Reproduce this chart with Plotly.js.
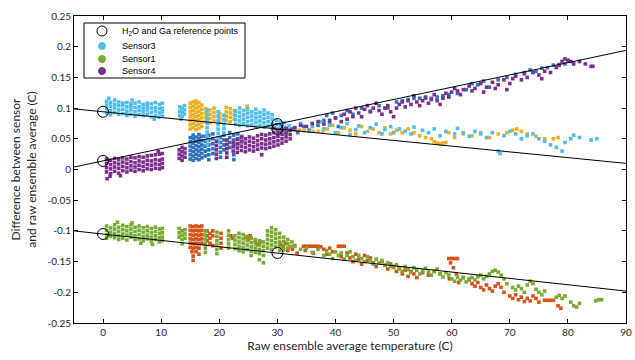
<!DOCTYPE html>
<html>
<head>
<meta charset="utf-8">
<script src="https://cdn.plot.ly/plotly-3.0.1.min.js"></script>
<style>html,body{margin:0;padding:0;background:#fff;}#chart{width:635px;height:360px;}</style>
</head>
<body>
<div id="chart"></div>
<script>
// Tick labels
const xTickVals = [0, 10, 20, 30, 40, 50, 60, 70, 80, 90];
const yTickVals = [-0.25, -0.2, -0.15, -0.1, -0.05, 0, 0.05, 0.1, 0.15, 0.2, 0.25];
const yTickText = ["-0.25", "-0.2", "-0.15", "-0.1", "-0.05", "0", "0.05", "0.1", "0.15", "0.2", "0.25"];

// Legend entries
const legendNames = ["H<sub>2</sub>O and Ga reference points", "Sensor3", "Sensor1", "Sensor4"];
const legendColors = [null, "#4DBEEE", "#77AC30", "#7E2F8E"];

// Reference points (H2O and Ga)
const refX = [0, 30, 0, 30, 0, 30];
const refY = [0.094, 0.066, 0.014, 0.074, -0.105, -0.136];

// Fit lines through reference points
const lineX = [-5, 90];
const lineUpperDownY = [0.0987, 0.010];
const lineUpperUpY = [0.004, 0.194];
const lineLowerY = [-0.100, -0.198];

// Columns: [x, [y values read at that x]]
const sensor3Cols = [
  [0.6,[0.092,0.099,0.105,0.111]],[1.0,[0.116]],[1.3,[0.089,0.096,0.103,0.109]],
  [2.0,[0.093,0.100,0.106,0.113]],[2.7,[0.090,0.097,0.104,0.110]],[3.4,[0.091,0.098,0.105,0.108]],
  [4.1,[0.088,0.095,0.102,0.109]],[4.8,[0.090,0.097,0.103,0.107]],[5.0,[0.113]],
  [5.5,[0.087,0.094,0.101,0.108]],[6.2,[0.089,0.096,0.102,0.110]],[6.9,[0.088,0.094,0.100,0.106]],
  [7.6,[0.090,0.097,0.103,0.108]],[8.3,[0.086,0.093,0.100,0.107]],[8.8,[0.082]],
  [9.0,[0.088,0.095,0.101,0.109]],[9.7,[0.085,0.092,0.099,0.106]],[10.2,[0.087,0.094,0.100,0.108]],
  [13.2,[0.088,0.095,0.102]],[13.4,[0.082]],[13.6,[0.086,0.093,0.100]],[14.0,[0.090,0.097,0.104]],
  [17.9,[0.040,0.047,0.054,0.061,0.068,0.075,0.082,0.089,0.096]],
  [19.8,[0.045,0.052,0.059,0.066,0.073,0.080,0.087,0.094]],
  [20.8,[0.060,0.067,0.074,0.081,0.088]],
  [22.8,[0.074,0.081,0.088,0.095]],[23.5,[0.072,0.079,0.086,0.093,0.100]],
  [24.2,[0.075,0.082,0.089,0.096]],[24.9,[0.071,0.078,0.085,0.092,0.099]],
  [25.6,[0.073,0.080,0.087,0.094]],[26.3,[0.070,0.077,0.084,0.091,0.098]],
  [27.0,[0.072,0.079,0.086,0.093]],[27.7,[0.069,0.076,0.083,0.090,0.097]],
  [28.4,[0.071,0.078,0.085,0.092]],[29.1,[0.068,0.075,0.082,0.089]],
  [29.8,[0.066,0.073,0.080]],[30.5,[0.064,0.071,0.078]],[31.2,[0.062,0.069,0.076]],[32.0,[0.064,0.071]],
  [33,[0.068]],[34,[0.075]],[35.5,[0.062]],[36,[0.070]],[37.5,[0.078]],[38,[0.066]],[39,[0.072]],
  [40,[0.060]],[41,[0.068]],[42,[0.075]],[42.5,[0.057]],[43.5,[0.065]],[44,[0.071]],[45,[0.060]],
  [46,[0.068]],[47,[0.074]],[48,[0.058]],[48.5,[0.065]],[49.5,[0.070]],[50,[0.060]],[51,[0.066]],
  [52,[0.062]],[53,[0.058]],[53.5,[0.069]],[55,[0.064]],[56,[0.060]],[57,[0.066]],[58,[0.055]],
  [59,[0.062]],[60.5,[0.058]],[61,[0.067]],[62,[0.060]],[63,[0.054]],[64,[0.062]],[65,[0.058]],
  [66,[0.052]],[67,[0.060]],[68,[0.030]],[68.3,[0.026]],[69,[0.055]],[70,[0.062]],[71,[0.058]],
  [72,[0.050]],[73,[0.055]],[74,[0.058]],[75,[0.050]],[76,[0.046]],[77,[0.040]],[78,[0.036]],
  [79,[0.030]],[79.5,[0.044]],[80.5,[0.050]],[81,[0.056]],[82,[0.052]],[84,[0.048]],[85,[0.050]]
];

const orangeCols = [
  [15.0,[0.066,0.073,0.080,0.087,0.094,0.101,0.108]],
  [15.5,[0.068,0.075,0.082,0.089,0.096,0.103,0.110]],
  [16.0,[0.065,0.072,0.079,0.086,0.093,0.100,0.107,0.112]],
  [16.5,[0.067,0.074,0.081,0.088,0.095,0.102,0.109]],
  [17.0,[0.070,0.077,0.084,0.091,0.098,0.105]],
  [17.7,[0.078,0.085,0.092,0.099]],[18.4,[0.076,0.083,0.090,0.097]],[19.1,[0.079,0.086,0.093,0.100]],
  [20.1,[0.077,0.084,0.091]],[21.2,[0.080,0.087,0.094,0.101]],[21.9,[0.078,0.085,0.092,0.099]],
  [22.6,[0.082,0.089,0.096]],[24.8,[0.098,0.103]],
  [30.2,[0.066]],[31,[0.067]],[32,[0.063]],[33,[0.064]],[33.8,[0.064]],[34.6,[0.063]],[35.4,[0.063]],
  [36.2,[0.062]],[37,[0.062]],[37.8,[0.061]],[38.6,[0.066]],[39.5,[0.072]],[40.5,[0.060]],
  [41.5,[0.068]],[42.5,[0.064]],[43.5,[0.058]],[44.5,[0.070]],[45.5,[0.062]],[46.5,[0.066]],
  [47.5,[0.060]],[48.5,[0.068]],[49.5,[0.058]],[50.5,[0.064]],[51.5,[0.060]],[52.5,[0.066]],
  [53.5,[0.060]],[54.5,[0.055]],[55.5,[0.052]],[56.5,[0.050]],[57,[0.045]],[57.5,[0.043]],
  [58,[0.042]],[58.5,[0.043]],[59,[0.044]],[59.5,[0.060]],[60.5,[0.052]],[62,[0.058]],
  [63.5,[0.055]],[65,[0.060]],[66.5,[0.052]],[68,[0.058]],[69.5,[0.060]],[70.5,[0.064]],
  [71.2,[0.066]],[72,[0.062]],[73,[0.058]],[74.5,[0.054]],[76,[0.050]],[77.5,[0.050]],[78.3,[0.052]]
];

const darkBlueCols = [
  [15.0,[0.017,0.024,0.031,0.038,0.045,0.052]],
  [15.5,[0.015,0.022,0.029,0.036,0.043,0.050,0.056]],
  [16.0,[0.018,0.025,0.032,0.039,0.046,0.053]],
  [16.5,[0.016,0.023,0.030,0.037,0.044,0.051,0.057]],
  [17.0,[0.019,0.026,0.033,0.040,0.047,0.054]],
  [17.6,[0.022,0.030,0.038,0.046,0.054]],[18.2,[0.016,0.024,0.032,0.040,0.048,0.056]],
  [18.9,[0.026,0.034,0.042,0.050,0.058]],[20.2,[0.020,0.028,0.036,0.044,0.052]],
  [20.8,[0.032,0.040,0.048,0.056]],[21.8,[0.036,0.044,0.052,0.060]],
  [22.5,[0.016,0.024,0.040,0.048,0.056]],[23.2,[0.042,0.050,0.058]],[23.9,[0.046,0.054]],
  [30.5,[0.062]],[31.5,[0.058]],[32.5,[0.066]],[33.5,[0.060]],[34.5,[0.070]],[35.5,[0.064]],
  [37,[0.072]],[38,[0.080]],[38.5,[0.088]],[39,[0.076]],[39.5,[0.092]],[40,[0.084]],[40.5,[0.070]],
  [41,[0.088]],[42,[0.096]],[43,[0.090]],[44.5,[0.100]],[46,[0.095]],[47.5,[0.104]],[49,[0.100]],
  [50.5,[0.110]],[51.5,[0.112]],[52.5,[0.114]],[53.5,[0.116]],[54.5,[0.116]],[55.5,[0.116]],
  [56.5,[0.116]],[57.5,[0.118]],[58.5,[0.120]],[59.5,[0.122]],[61,[0.124]],[62.5,[0.130]],
  [63.5,[0.140]],[64.5,[0.138]],[65.5,[0.144]],[66.5,[0.134]],[68,[0.146]],[69.5,[0.150]],
  [71,[0.155]],[72.5,[0.158]],[73.5,[0.162]],[74.5,[0.160]],[75.5,[0.165]],[76.5,[0.166]],
  [77.5,[0.170]],[78.5,[0.171]],[79.5,[0.172]]
];

const sensor4Cols = [
  [0.6,[-0.004,0.003,0.010,0.017]],[0.7,[-0.015]],[1.2,[-0.011]],[1.3,[-0.007,0.001,0.008,0.015]],
  [2.0,[-0.003,0.004,0.011,0.018]],[2.7,[-0.006,0.002,0.009,0.016]],[3.0,[-0.010]],
  [3.4,[-0.002,0.005,0.012,0.019]],[4.1,[-0.004,0.003,0.010,0.017]],[4.8,[-0.001,0.006,0.013,0.020]],
  [5.5,[-0.003,0.004,0.011,0.019]],[6.2,[0.000,0.007,0.014,0.021]],[6.9,[-0.002,0.005,0.012,0.020]],
  [7.6,[0.001,0.008,0.015,0.022]],[8.3,[0.000,0.007,0.014,0.023]],[9.0,[0.002,0.009,0.016,0.024]],
  [9.5,[0.029]],[9.7,[0.001,0.008,0.015,0.025]],[10.2,[0.003,0.010,0.017,0.026]],
  [13.1,[0.018,0.025,0.032]],[13.6,[0.015,0.022,0.029,0.036]],[14.1,[0.020,0.027,0.034]],
  [19.5,[0.018,0.025,0.032,0.039,0.046]],[21.3,[0.020,0.027,0.034,0.041,0.048]],
  [22.4,[0.030,0.037,0.044]],[23.1,[0.028,0.035,0.042,0.049]],[23.8,[0.031,0.038,0.045,0.052]],
  [24.5,[0.029,0.036,0.043,0.050]],[25.2,[0.032,0.039,0.046,0.053]],[25.9,[0.030,0.037,0.044,0.051]],
  [26.6,[0.033,0.040,0.047,0.055]],[27.3,[0.024,0.035,0.042,0.050,0.057]],
  [28.0,[0.034,0.041,0.048,0.056]],[28.7,[0.036,0.043,0.050,0.058]],
  [29.4,[0.038,0.045,0.052,0.060,0.067]],[30.1,[0.040,0.047,0.054,0.061]],
  [30.8,[0.043,0.050,0.057,0.064]],[31.5,[0.046,0.053,0.060,0.067]],[32.2,[0.050,0.057,0.064]],
  [33,[0.068]],[34,[0.072]],[35,[0.070]],[36,[0.075]],[37,[0.078]],[38,[0.074]],[39,[0.080]],
  [40,[0.084]],[41,[0.078]],[41.5,[0.090]],[42,[0.082]],[42.5,[0.094]],[43,[0.086]],[43.5,[0.100]],
  [44,[0.092]],[44.5,[0.086]],[45,[0.098]],[45.5,[0.104]],[46,[0.094]],[46.5,[0.100]],[47,[0.108]],
  [47.5,[0.096]],[48,[0.090]],[48.5,[0.100]],[49,[0.104]],[49.5,[0.094]],[50,[0.086]],[50.5,[0.100]],
  [51,[0.106]],[51.5,[0.110]],[52,[0.102]],[52.5,[0.112]],[53,[0.106]],[53.5,[0.120]],[54,[0.110]],
  [54.5,[0.104]],[55,[0.112]],[55.5,[0.118]],[56,[0.108]],[56.5,[0.114]],[57,[0.122]],[57.5,[0.112]],
  [58,[0.106]],[58.5,[0.116]],[59,[0.124]],[59.5,[0.118]],[60,[0.126]],[60.5,[0.132]],[61,[0.128]],
  [61.5,[0.122]],[62,[0.130]],[63,[0.136]],[63.5,[0.128]],[64,[0.132]],[65,[0.140]],[65.5,[0.126]],
  [66,[0.134]],[67,[0.142]],[67.5,[0.132]],[68,[0.138]],[69,[0.146]],[69.5,[0.130]],[70,[0.140]],
  [70.5,[0.148]],[71,[0.152]],[72,[0.146]],[72.5,[0.156]],[73,[0.150]],[74,[0.158]],[75,[0.154]],
  [75.5,[0.148]],[76,[0.160]],[77,[0.158]],[78,[0.166]],[78.5,[0.170]],[79,[0.176]],[79.5,[0.180]],
  [80,[0.178]],[80.5,[0.176]],[81,[0.172]],[82,[0.176]],[83,[0.172]],[84,[0.168]],[84.3,[0.168]]
];

const sensor1Cols = [
  [0.6,[-0.092,-0.099,-0.106,-0.112]],[1.3,[-0.095,-0.102,-0.109]],[2.0,[-0.090,-0.097,-0.104,-0.111]],
  [2.5,[-0.086]],[2.7,[-0.094,-0.101,-0.108,-0.114]],[3.4,[-0.091,-0.098,-0.105,-0.112]],
  [4.1,[-0.093,-0.100,-0.107,-0.115]],[4.8,[-0.090,-0.097,-0.104,-0.110]],[5.0,[-0.087]],
  [5.5,[-0.094,-0.101,-0.108,-0.114]],[6.2,[-0.092,-0.099,-0.106,-0.113]],[6.5,[-0.120]],
  [6.9,[-0.095,-0.102,-0.109,-0.116]],[7.6,[-0.093,-0.100,-0.107,-0.113]],
  [8.3,[-0.096,-0.103,-0.110,-0.117]],[8.5,[-0.122]],[9.0,[-0.094,-0.101,-0.108,-0.114]],
  [9.7,[-0.097,-0.104,-0.111,-0.118]],[10.2,[-0.096,-0.103,-0.110,-0.116]],
  [13.1,[-0.096,-0.103,-0.110]],[13.6,[-0.100,-0.107,-0.114,-0.121]],[14.1,[-0.098,-0.105,-0.112]],
  [17.6,[-0.100,-0.107,-0.114,-0.121,-0.128,-0.135]],
  [19.6,[-0.102,-0.109,-0.116,-0.123,-0.130,-0.137]],
  [21.6,[-0.100,-0.107,-0.114,-0.121,-0.128]],
  [22.7,[-0.108,-0.115,-0.122,-0.129]],[23.4,[-0.104,-0.111,-0.118,-0.125,-0.132]],
  [24.1,[-0.106,-0.113,-0.120,-0.127,-0.134]],[24.8,[-0.109,-0.116,-0.123,-0.130]],
  [25.5,[-0.112,-0.119,-0.126,-0.133,-0.140]],[26.2,[-0.114,-0.121,-0.128,-0.135]],
  [26.9,[-0.116,-0.123,-0.130,-0.137,-0.147]],[27.6,[-0.118,-0.125,-0.132,-0.140,-0.152]],
  [28.3,[-0.100,-0.107,-0.114,-0.121,-0.128]],[29.0,[-0.095,-0.102,-0.109,-0.116,-0.123,-0.130]],
  [29.7,[-0.098,-0.105,-0.112,-0.119,-0.126]],[30.4,[-0.104,-0.111,-0.118,-0.125,-0.132]],
  [31.1,[-0.110,-0.117,-0.124,-0.131]],[31.8,[-0.114,-0.121,-0.128]],[32.5,[-0.118,-0.125]],
  [33,[-0.125]],[34,[-0.130]],[35,[-0.128]],[36,[-0.135]],[37,[-0.130]],[38,[-0.140]],[38.5,[-0.132]],
  [39,[-0.138]],[39.5,[-0.145]],[40,[-0.134]],[40.5,[-0.140]],[41,[-0.136]],[41.5,[-0.146]],
  [42,[-0.140]],[42.5,[-0.134]],[43,[-0.142]],[43.5,[-0.148]],[44,[-0.140]],[44.5,[-0.145]],
  [45,[-0.150]],[45.5,[-0.142]],[46,[-0.148]],[46.5,[-0.154]],[47,[-0.146]],[47.5,[-0.152]],
  [48,[-0.148]],[48.5,[-0.156]],[49,[-0.152]],[49.5,[-0.158]],[50,[-0.160]],[50.5,[-0.155]],
  [51,[-0.162]],[51.5,[-0.166]],[52,[-0.158]],[52.5,[-0.163]],[53,[-0.168]],[53.5,[-0.160]],
  [54,[-0.164]],[54.5,[-0.170]],[55,[-0.165]],[55.5,[-0.161]],[56,[-0.167]],[56.5,[-0.172]],
  [57,[-0.166]],[57.5,[-0.162]],[58,[-0.170]],[58.5,[-0.175]],[59,[-0.168]],[59.5,[-0.172]],
  [60,[-0.178]],[60.5,[-0.182]],[61,[-0.175]],[61.5,[-0.180]],[62,[-0.176]],[62.5,[-0.183]],
  [63,[-0.178]],[63.5,[-0.176]],[64,[-0.180]],[64.5,[-0.175]],[65,[-0.172]],[65.5,[-0.178]],
  [66,[-0.174]],[66.5,[-0.170]],[67,[-0.166]],[67.5,[-0.164]],[68,[-0.167]],[68.5,[-0.172]],
  [69,[-0.178]],[69.5,[-0.186]],[70.5,[-0.192]],[71,[-0.196]],[71.5,[-0.190]],[72,[-0.194]],
  [72.5,[-0.200]],[73,[-0.188]],[73.5,[-0.182]],[74,[-0.186]],[74.5,[-0.195]],[75,[-0.200]],
  [75.5,[-0.204]],[76,[-0.198]],[78,[-0.208]],[78.5,[-0.205]],[79,[-0.210]],[79.5,[-0.206]],
  [80.5,[-0.216]],[81,[-0.222]],[81.5,[-0.224]],[82,[-0.218]],[84.8,[-0.214]],[85.3,[-0.212]],[85.8,[-0.212]]
];

const redCols = [
  [15.0,[-0.092,-0.099,-0.106,-0.113,-0.120,-0.127]],
  [15.3,[-0.134]],[15.5,[-0.093,-0.100,-0.107,-0.114,-0.121,-0.128,-0.141,-0.148]],
  [16.0,[-0.092,-0.099,-0.106,-0.113,-0.120,-0.127,-0.134]],
  [16.5,[-0.093,-0.100,-0.107,-0.114,-0.121,-0.128,-0.138]],
  [17.0,[-0.092,-0.099,-0.106,-0.113,-0.120]],
  [17.9,[-0.100,-0.108,-0.116]],[18.4,[-0.104,-0.112,-0.120]],[18.9,[-0.100,-0.108,-0.124]],
  [20.3,[-0.104,-0.112,-0.120,-0.128]],[22.0,[-0.108]],[22.3,[-0.112]],[24.6,[-0.110]],
  [25.0,[-0.114]],[25.3,[-0.108]],[26.2,[-0.116]],[26.6,[-0.122]],[27.0,[-0.118]],
  [30.5,[-0.122]],[31.0,[-0.128]],[31.4,[-0.120]],[31.8,[-0.132]],[32.2,[-0.126]],[32.6,[-0.130]],
  [33,[-0.124]],[33.4,[-0.136]],
  [34.5,[-0.125]],[34.8,[-0.132]],[35,[-0.125]],[35.5,[-0.125]],[36,[-0.125]],[36.2,[-0.136]],
  [36.5,[-0.125]],[37,[-0.125]],[37.5,[-0.126]],[38,[-0.130]],[38.5,[-0.138]],[39,[-0.128]],
  [39.5,[-0.134]],[40.5,[-0.125]],[41,[-0.125,-0.142]],[41.5,[-0.125]],[42,[-0.136]],[42.5,[-0.144]],
  [43,[-0.150]],[43.5,[-0.138]],[44,[-0.146]],[44.5,[-0.154]],[45,[-0.140]],[45.5,[-0.148]],
  [46,[-0.144]],[46.5,[-0.152]],[47,[-0.158]],[48,[-0.150]],[48.5,[-0.156]],[49,[-0.162]],
  [49.5,[-0.154]],[50,[-0.158]],[50.5,[-0.166]],[51,[-0.160]],[51.5,[-0.170]],[52,[-0.164]],
  [52.5,[-0.174]],[53,[-0.166]],[53.5,[-0.170]],[54,[-0.176]],[55,[-0.168]],[56,[-0.172]],
  [57,[-0.166]],[58,[-0.170]],[59.5,[-0.145]],[59.6,[-0.178]],[59.8,[-0.152]],[60,[-0.145]],
  [60.3,[-0.160]],[60.5,[-0.145]],[60.8,[-0.170]],[61,[-0.145]],[61.2,[-0.184]],[62,[-0.176]],
  [63,[-0.180]],[63.5,[-0.186]],[64,[-0.190]],[64.5,[-0.184]],[65,[-0.192]],[65.5,[-0.196]],
  [66,[-0.188]],[66.5,[-0.194]],[67,[-0.198]],[67.5,[-0.190]],[68,[-0.186]],[68.5,[-0.192]],
  [69,[-0.200]],[70,[-0.206]],[70.5,[-0.210]],[71,[-0.204]],[71.5,[-0.212]],[72,[-0.208]],
  [72.5,[-0.215]],[73,[-0.210]],[73.5,[-0.214]],[74,[-0.206]],[74.5,[-0.210]],[75,[-0.216]],
  [76,[-0.213]],[76.5,[-0.213]],[77,[-0.213]],[77.5,[-0.213]],[78.3,[-0.222]],[78.8,[-0.226]]
];

function expand(cols) {
  const xs = [], ys = [];
  cols.forEach(function (c) { c[1].forEach(function (y) { xs.push(c[0]); ys.push(y); }); });
  return { x: xs, y: ys };
}

const DOT = 3.6;
function scatter(cols, color) {
  const p = expand(cols);
  return { x: p.x, y: p.y, type: 'scatter', mode: 'markers', showlegend: false,
    marker: { color: color, size: DOT, symbol: 'square', line: { width: 0 } }, hoverinfo: 'skip' };
}
function fitLine(ys) {
  return { x: lineX, y: ys, type: 'scatter', mode: 'lines', showlegend: false,
    line: { color: '#000', width: 1 }, hoverinfo: 'skip' };
}

const traces = [
  scatter(orangeCols, '#EDB120'),
  scatter(darkBlueCols, '#2F73BD'),
  scatter(redCols, '#D95319'),
  scatter(sensor3Cols, '#4DBEEE'),
  scatter(sensor1Cols, '#77AC30'),
  scatter(sensor4Cols, '#7E2F8E'),
  fitLine(lineUpperDownY),
  fitLine(lineUpperUpY),
  fitLine(lineLowerY),
  { x: refX, y: refY, type: 'scatter', mode: 'markers', showlegend: false, hoverinfo: 'skip',
    marker: { symbol: 'circle-open', size: 11, color: '#000', line: { width: 1, color: '#000' } } }
];

// Plot area in pixels (for a compact legend box in paper coordinates)
const W = 635, H = 360, M = { l: 74, r: 9, t: 16, b: 37 };
const PW = W - M.l - M.r, PH = H - M.t - M.b;
const px2x = function (px) { return (px - M.l) / PW; };
const py2y = function (py) { return (H - M.b - py) / PH; };

const legBox = { x0: 84, x1: 245, y0: 23, y1: 78 };
const rowY = [31, 46, 59, 71];
const markX = 102, textX = 120;

const shapes = [
  { type: 'rect', xref: 'paper', yref: 'paper', x0: px2x(legBox.x0), x1: px2x(legBox.x1),
    y0: py2y(legBox.y1), y1: py2y(legBox.y0), line: { color: '#000', width: 1 }, fillcolor: '#fff', layer: 'above' }
];
const annotations = [];
legendNames.forEach(function (name, i) {
  const r = legendColors[i] ? 3.5 : 5;
  shapes.push({ type: 'circle', xref: 'paper', yref: 'paper',
    x0: px2x(markX - r), x1: px2x(markX + r), y0: py2y(rowY[i] + r), y1: py2y(rowY[i] - r),
    line: { color: legendColors[i] || '#000', width: 1 }, fillcolor: legendColors[i] || 'rgba(0,0,0,0)', layer: 'above' });
  annotations.push({ xref: 'paper', yref: 'paper', x: px2x(textX), y: py2y(rowY[i]),
    xanchor: 'left', yanchor: 'middle', showarrow: false, text: name,
    font: { family: '"Liberation Sans", Arial, sans-serif', size: 9, color: '#000' } });
});

const tickFont = { family: 'Lato, "Open Sans", sans-serif', size: 10, color: '#262626' };
const titleFont = { family: 'Lato, "Open Sans", sans-serif', size: 12, color: '#262626' };

const layout = {
  width: W, height: H,
  margin: { l: M.l, r: M.r, t: M.t, b: M.b, pad: 0 },
  paper_bgcolor: '#fff', plot_bgcolor: '#fff',
  showlegend: false,
  hovermode: false,
  xaxis: {
    range: [-5, 90], tickmode: 'array', tickvals: xTickVals,
    ticks: 'inside', ticklen: 4, tickcolor: '#000', mirror: 'ticks',
    showline: true, linecolor: '#000', linewidth: 1, showgrid: false, zeroline: false,
    tickfont: tickFont, title: { text: 'Raw ensemble average temperature (C)', font: titleFont, standoff: 4 }
  },
  yaxis: {
    range: [-0.25, 0.25], tickmode: 'array', tickvals: yTickVals, ticktext: yTickText,
    ticks: 'inside', ticklen: 4, tickcolor: '#000', mirror: 'ticks',
    showline: true, linecolor: '#000', linewidth: 1, showgrid: false, zeroline: false,
    tickfont: tickFont,
    title: { text: 'Difference between sensor<br>and raw ensemble average (C)', font: titleFont, standoff: 8 }
  },
  shapes: shapes,
  annotations: annotations
};

Plotly.newPlot('chart', traces, layout, { displayModeBar: false, staticPlot: true });
</script>
</body>
</html>
